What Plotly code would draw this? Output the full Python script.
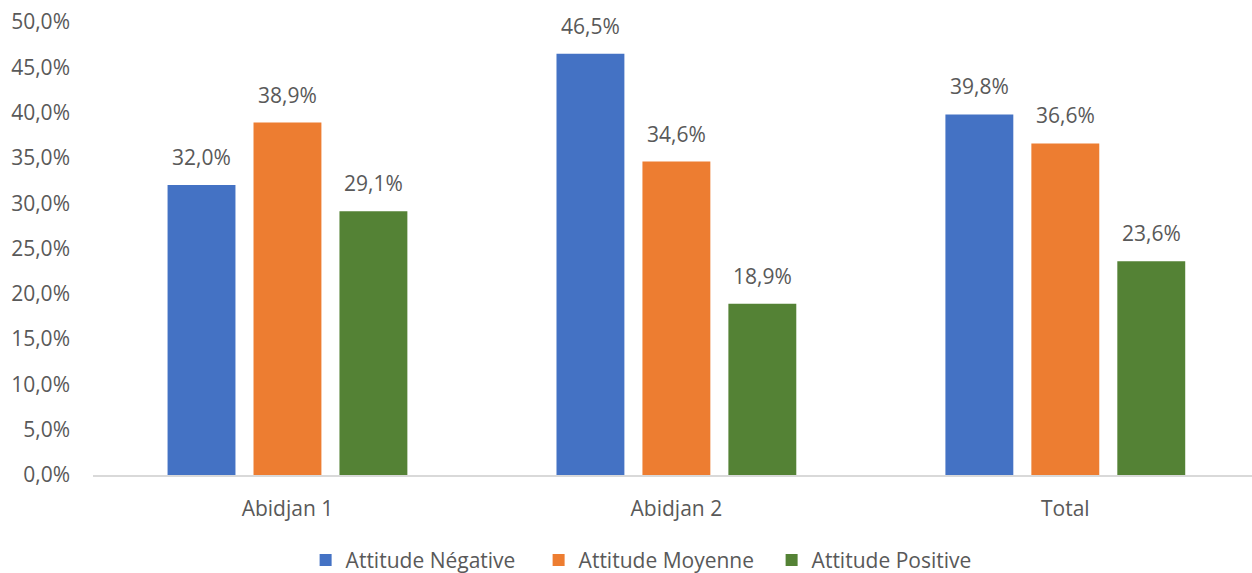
import plotly.graph_objects as go

categories = ["Abidjan 1", "Abidjan 2", "Total"]
series_names = ["Attitude Négative", "Attitude Moyenne", "Attitude Positive"]
negative = [32.0, 46.5, 39.8]
moyenne = [38.9, 34.6, 36.6]
positive = [29.1, 18.9, 23.6]
colors = ["#4472C4", "#ED7D31", "#548235"]
y_ticks = [0, 5, 10, 15, 20, 25, 30, 35, 40, 45, 50]

FONT = "Open Sans"
TEXT_COLOR = "#595959"
SIZE = 21
BARGAP = 0.337
BARGROUPGAP = 0.21


def pct(v):
    return f"{v:.1f}%".replace(".", ",")


fig = go.Figure()
all_series = [negative, moyenne, positive]
for name, vals, col in zip(series_names, all_series, colors):
    fig.add_trace(go.Bar(
        x=categories, y=vals, name=name, marker_color=col,
        marker_line_width=0,
    ))

# value labels above each bar, placed at the grouped bar centres
slot = (1 - BARGAP) / len(all_series)
annotations = []
for k, vals in enumerate(all_series):
    offset = (k - (len(all_series) - 1) / 2) * slot
    for i, v in enumerate(vals):
        annotations.append(dict(
            x=i + offset, y=v, xref="x", yref="y", text=pct(v),
            showarrow=False, yanchor="middle", yshift=28,
            font=dict(family=FONT, size=SIZE, color=TEXT_COLOR),
        ))

fig.update_layout(
    width=1252, height=573,
    margin=dict(l=93, r=0, t=22, b=98),
    paper_bgcolor="white", plot_bgcolor="white",
    barmode="group", bargap=BARGAP, bargroupgap=BARGROUPGAP,
    font=dict(family=FONT, size=SIZE, color=TEXT_COLOR),
    showlegend=True,
    legend=dict(orientation="h", x=0.485, xanchor="center",
                yref="container", y=0.022, yanchor="middle",
                font=dict(family=FONT, size=SIZE, color=TEXT_COLOR),
                itemwidth=30, traceorder="normal",
                entrywidth=188, entrywidthmode="pixels",
                tracegroupgap=0),
    annotations=annotations,
)
fig.update_xaxes(type="category", range=[-0.5, 2.48],
                 showline=True, linecolor="#D9D9D9", linewidth=1.5,
                 ticks="", tickfont=dict(family=FONT, size=SIZE, color=TEXT_COLOR),
                 ticklabelstandoff=14)
fig.update_yaxes(range=[0, 50], tickvals=y_ticks,
                 ticktext=[pct(t) for t in y_ticks],
                 showgrid=False, zeroline=False, showline=False, ticks="",
                 tickfont=dict(family=FONT, size=SIZE, color=TEXT_COLOR),
                 ticklabelstandoff=22)

fig.write_html("out.html")
